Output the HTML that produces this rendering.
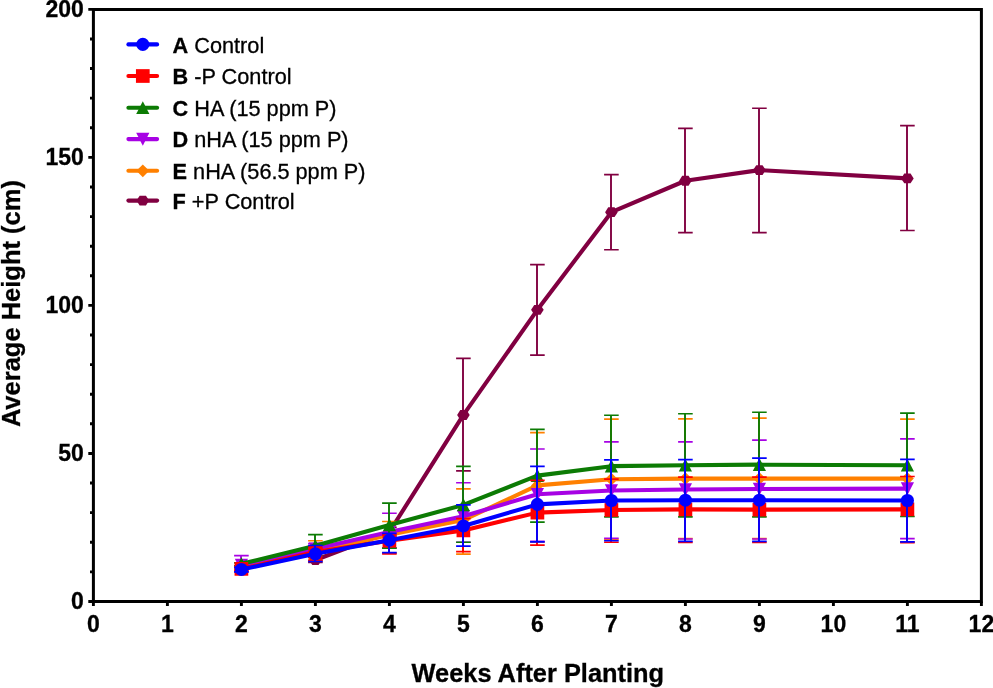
<!DOCTYPE html>
<html><head><meta charset="utf-8"><style>
html,body{margin:0;padding:0;background:#fff;width:993px;height:688px;overflow:hidden}
svg{display:block;will-change:transform}
text{font-family:"Liberation Sans",sans-serif;stroke:#000;stroke-width:0.3px;paint-order:stroke}
</style></head><body>
<svg width="993" height="688" viewBox="0 0 993 688">
<rect width="993" height="688" fill="#fff"/>
<g><path d="M315.00 557.04V562.37" stroke="#810041" stroke-width="1.9" fill="none"/><path d="M308.10 557.04H322.70M308.10 562.37H322.70" stroke="#810041" stroke-width="1.7" fill="none"/><path d="M389.00 527.44V536.32" stroke="#810041" stroke-width="1.9" fill="none"/><path d="M382.10 527.44H396.70M382.10 536.32H396.70" stroke="#810041" stroke-width="1.7" fill="none"/><path d="M463.00 358.39V470.89" stroke="#810041" stroke-width="1.9" fill="none"/><path d="M456.10 358.39H470.70M456.10 470.89H470.70" stroke="#810041" stroke-width="1.7" fill="none"/><path d="M537.00 264.55V355.14" stroke="#810041" stroke-width="1.9" fill="none"/><path d="M530.10 264.55H544.70M530.10 355.14H544.70" stroke="#810041" stroke-width="1.7" fill="none"/><path d="M611.00 174.55V249.74" stroke="#810041" stroke-width="1.9" fill="none"/><path d="M604.10 174.55H618.70M604.10 249.74H618.70" stroke="#810041" stroke-width="1.7" fill="none"/><path d="M685.00 128.36V232.57" stroke="#810041" stroke-width="1.9" fill="none"/><path d="M678.10 128.36H692.70M678.10 232.57H692.70" stroke="#810041" stroke-width="1.7" fill="none"/><path d="M759.00 108.23V232.57" stroke="#810041" stroke-width="1.9" fill="none"/><path d="M752.10 108.23H766.70M752.10 232.57H766.70" stroke="#810041" stroke-width="1.7" fill="none"/><path d="M907.00 125.70V230.50" stroke="#810041" stroke-width="1.9" fill="none"/><path d="M900.10 125.70H914.70M900.10 230.50H914.70" stroke="#810041" stroke-width="1.7" fill="none"/><polyline points="315.40,560.00 389.40,531.88 463.40,414.94 537.40,309.84 611.40,212.14 685.40,180.76 759.40,170.11 907.40,178.39" stroke="#810041" stroke-width="4.1" fill="none" stroke-linejoin="round"/><polygon points="309.10,560.00 312.25,555.05 318.55,555.05 321.70,560.00 318.55,564.95 312.25,564.95" fill="#810041"/><polygon points="383.10,531.88 386.25,526.93 392.55,526.93 395.70,531.88 392.55,536.83 386.25,536.83" fill="#810041"/><polygon points="457.10,414.94 460.25,409.99 466.55,409.99 469.70,414.94 466.55,419.89 460.25,419.89" fill="#810041"/><polygon points="531.10,309.84 534.25,304.89 540.55,304.89 543.70,309.84 540.55,314.79 534.25,314.79" fill="#810041"/><polygon points="605.10,212.14 608.25,207.19 614.55,207.19 617.70,212.14 614.55,217.09 608.25,217.09" fill="#810041"/><polygon points="679.10,180.76 682.25,175.81 688.55,175.81 691.70,180.76 688.55,185.71 682.25,185.71" fill="#810041"/><polygon points="753.10,170.11 756.25,165.16 762.55,165.16 765.70,170.11 762.55,175.06 756.25,175.06" fill="#810041"/><polygon points="901.10,178.39 904.25,173.44 910.55,173.44 913.70,178.39 910.55,183.34 904.25,183.34" fill="#810041"/></g>
<g><path d="M241.00 565.92V568.88" stroke="#FF8000" stroke-width="1.9" fill="none"/><path d="M234.10 565.92H248.70M234.10 568.88H248.70" stroke="#FF8000" stroke-width="1.7" fill="none"/><path d="M315.00 540.76V560.30" stroke="#FF8000" stroke-width="1.9" fill="none"/><path d="M308.10 540.76H322.70M308.10 560.30H322.70" stroke="#FF8000" stroke-width="1.7" fill="none"/><path d="M389.00 521.52V552.90" stroke="#FF8000" stroke-width="1.9" fill="none"/><path d="M382.10 521.52H396.70M382.10 552.90H396.70" stroke="#FF8000" stroke-width="1.7" fill="none"/><path d="M463.00 488.95V554.08" stroke="#FF8000" stroke-width="1.9" fill="none"/><path d="M456.10 488.95H470.70M456.10 554.08H470.70" stroke="#FF8000" stroke-width="1.7" fill="none"/><path d="M537.00 432.70V541.94" stroke="#FF8000" stroke-width="1.9" fill="none"/><path d="M530.10 432.70H544.70M530.10 541.94H544.70" stroke="#FF8000" stroke-width="1.7" fill="none"/><path d="M611.00 419.08V539.43" stroke="#FF8000" stroke-width="1.9" fill="none"/><path d="M604.10 419.08H618.70M604.10 539.43H618.70" stroke="#FF8000" stroke-width="1.7" fill="none"/><path d="M685.00 418.79V538.69" stroke="#FF8000" stroke-width="1.9" fill="none"/><path d="M678.10 418.79H692.70M678.10 538.69H692.70" stroke="#FF8000" stroke-width="1.7" fill="none"/><path d="M759.00 418.20V538.69" stroke="#FF8000" stroke-width="1.9" fill="none"/><path d="M752.10 418.20H766.70M752.10 538.69H766.70" stroke="#FF8000" stroke-width="1.7" fill="none"/><path d="M907.00 419.08V541.94" stroke="#FF8000" stroke-width="1.9" fill="none"/><path d="M900.10 419.08H914.70M900.10 541.94H914.70" stroke="#FF8000" stroke-width="1.7" fill="none"/><polyline points="241.40,567.40 315.40,552.60 389.40,534.84 463.40,520.04 537.40,485.40 611.40,479.18 685.40,478.59 759.40,478.59 907.40,478.59" stroke="#FF8000" stroke-width="4.1" fill="none" stroke-linejoin="round"/><polygon points="241.40,561.00 247.80,567.40 241.40,573.80 235.00,567.40" fill="#FF8000"/><polygon points="315.40,546.20 321.80,552.60 315.40,559.00 309.00,552.60" fill="#FF8000"/><polygon points="389.40,528.44 395.80,534.84 389.40,541.24 383.00,534.84" fill="#FF8000"/><polygon points="463.40,513.64 469.80,520.04 463.40,526.44 457.00,520.04" fill="#FF8000"/><polygon points="537.40,479.00 543.80,485.40 537.40,491.80 531.00,485.40" fill="#FF8000"/><polygon points="611.40,472.78 617.80,479.18 611.40,485.58 605.00,479.18" fill="#FF8000"/><polygon points="685.40,472.19 691.80,478.59 685.40,484.99 679.00,478.59" fill="#FF8000"/><polygon points="759.40,472.19 765.80,478.59 759.40,484.99 753.00,478.59" fill="#FF8000"/><polygon points="907.40,472.19 913.80,478.59 907.40,484.99 901.00,478.59" fill="#FF8000"/></g>
<g><path d="M241.00 555.56V571.85" stroke="#A702E4" stroke-width="1.9" fill="none"/><path d="M234.10 555.56H248.70M234.10 571.85H248.70" stroke="#A702E4" stroke-width="1.7" fill="none"/><path d="M315.00 543.72V555.56" stroke="#A702E4" stroke-width="1.9" fill="none"/><path d="M308.10 543.72H322.70M308.10 555.56H322.70" stroke="#A702E4" stroke-width="1.7" fill="none"/><path d="M389.00 513.23V547.86" stroke="#A702E4" stroke-width="1.9" fill="none"/><path d="M382.10 513.23H396.70M382.10 547.86H396.70" stroke="#A702E4" stroke-width="1.7" fill="none"/><path d="M463.00 482.73V542.24" stroke="#A702E4" stroke-width="1.9" fill="none"/><path d="M456.10 482.73H470.70M456.10 542.24H470.70" stroke="#A702E4" stroke-width="1.7" fill="none"/><path d="M537.00 448.98V541.35" stroke="#A702E4" stroke-width="1.9" fill="none"/><path d="M530.10 448.98H544.70M530.10 541.35H544.70" stroke="#A702E4" stroke-width="1.7" fill="none"/><path d="M611.00 441.88V538.39" stroke="#A702E4" stroke-width="1.9" fill="none"/><path d="M604.10 441.88H618.70M604.10 538.39H618.70" stroke="#A702E4" stroke-width="1.7" fill="none"/><path d="M685.00 441.88V538.98" stroke="#A702E4" stroke-width="1.9" fill="none"/><path d="M678.10 441.88H692.70M678.10 538.98H692.70" stroke="#A702E4" stroke-width="1.7" fill="none"/><path d="M759.00 440.10V538.98" stroke="#A702E4" stroke-width="1.9" fill="none"/><path d="M752.10 440.10H766.70M752.10 538.98H766.70" stroke="#A702E4" stroke-width="1.7" fill="none"/><path d="M907.00 438.92V538.69" stroke="#A702E4" stroke-width="1.9" fill="none"/><path d="M900.10 438.92H914.70M900.10 538.69H914.70" stroke="#A702E4" stroke-width="1.7" fill="none"/><polyline points="241.40,565.04 315.40,548.75 389.40,531.88 463.40,516.19 537.40,494.28 611.40,490.43 685.40,489.54 759.40,488.95 907.40,488.65" stroke="#A702E4" stroke-width="4.1" fill="none" stroke-linejoin="round"/><polygon points="241.40,571.64 248.00,558.74 234.80,558.74" fill="#A702E4"/><polygon points="315.40,555.35 322.00,542.45 308.80,542.45" fill="#A702E4"/><polygon points="389.40,538.48 396.00,525.58 382.80,525.58" fill="#A702E4"/><polygon points="463.40,522.79 470.00,509.89 456.80,509.89" fill="#A702E4"/><polygon points="537.40,500.88 544.00,487.98 530.80,487.98" fill="#A702E4"/><polygon points="611.40,497.03 618.00,484.13 604.80,484.13" fill="#A702E4"/><polygon points="685.40,496.14 692.00,483.24 678.80,483.24" fill="#A702E4"/><polygon points="759.40,495.55 766.00,482.65 752.80,482.65" fill="#A702E4"/><polygon points="907.40,495.25 914.00,482.35 900.80,482.35" fill="#A702E4"/></g>
<g><path d="M241.00 562.96V565.92" stroke="#0C7B04" stroke-width="1.9" fill="none"/><path d="M234.10 562.96H248.70M234.10 565.92H248.70" stroke="#0C7B04" stroke-width="1.7" fill="none"/><path d="M315.00 534.54V555.56" stroke="#0C7B04" stroke-width="1.9" fill="none"/><path d="M308.10 534.54H322.70M308.10 555.56H322.70" stroke="#0C7B04" stroke-width="1.7" fill="none"/><path d="M389.00 503.16V548.16" stroke="#0C7B04" stroke-width="1.9" fill="none"/><path d="M382.10 503.16H396.70M382.10 548.16H396.70" stroke="#0C7B04" stroke-width="1.7" fill="none"/><path d="M463.00 466.45V542.24" stroke="#0C7B04" stroke-width="1.9" fill="none"/><path d="M456.10 466.45H470.70M456.10 542.24H470.70" stroke="#0C7B04" stroke-width="1.7" fill="none"/><path d="M537.00 429.44V522.11" stroke="#0C7B04" stroke-width="1.9" fill="none"/><path d="M530.10 429.44H544.70M530.10 522.11H544.70" stroke="#0C7B04" stroke-width="1.7" fill="none"/><path d="M611.00 415.23V516.78" stroke="#0C7B04" stroke-width="1.9" fill="none"/><path d="M604.10 415.23H618.70M604.10 516.78H618.70" stroke="#0C7B04" stroke-width="1.7" fill="none"/><path d="M685.00 413.75V516.78" stroke="#0C7B04" stroke-width="1.9" fill="none"/><path d="M678.10 413.75H692.70M678.10 516.78H692.70" stroke="#0C7B04" stroke-width="1.7" fill="none"/><path d="M759.00 412.27V516.78" stroke="#0C7B04" stroke-width="1.9" fill="none"/><path d="M752.10 412.27H766.70M752.10 516.78H766.70" stroke="#0C7B04" stroke-width="1.7" fill="none"/><path d="M907.00 413.16V516.48" stroke="#0C7B04" stroke-width="1.9" fill="none"/><path d="M900.10 413.16H914.70M900.10 516.48H914.70" stroke="#0C7B04" stroke-width="1.7" fill="none"/><polyline points="241.40,563.85 315.40,545.79 389.40,525.07 463.40,504.94 537.40,475.63 611.40,466.16 685.40,465.27 759.40,464.67 907.40,465.27" stroke="#0C7B04" stroke-width="4.1" fill="none" stroke-linejoin="round"/><polygon points="241.40,557.25 248.00,570.15 234.80,570.15" fill="#0C7B04"/><polygon points="315.40,539.19 322.00,552.09 308.80,552.09" fill="#0C7B04"/><polygon points="389.40,518.47 396.00,531.37 382.80,531.37" fill="#0C7B04"/><polygon points="463.40,498.34 470.00,511.24 456.80,511.24" fill="#0C7B04"/><polygon points="537.40,469.03 544.00,481.93 530.80,481.93" fill="#0C7B04"/><polygon points="611.40,459.56 618.00,472.46 604.80,472.46" fill="#0C7B04"/><polygon points="685.40,458.67 692.00,471.57 678.80,471.57" fill="#0C7B04"/><polygon points="759.40,458.07 766.00,470.97 752.80,470.97" fill="#0C7B04"/><polygon points="907.40,458.67 914.00,471.57 900.80,471.57" fill="#0C7B04"/></g>
<g><path d="M241.00 567.40V570.36" stroke="#FF0000" stroke-width="1.9" fill="none"/><path d="M234.10 567.40H248.70M234.10 570.36H248.70" stroke="#FF0000" stroke-width="1.7" fill="none"/><path d="M315.00 548.16V560.30" stroke="#FF0000" stroke-width="1.9" fill="none"/><path d="M308.10 548.16H322.70M308.10 560.30H322.70" stroke="#FF0000" stroke-width="1.7" fill="none"/><path d="M389.00 534.84V553.79" stroke="#FF0000" stroke-width="1.9" fill="none"/><path d="M382.10 534.84H396.70M382.10 553.79H396.70" stroke="#FF0000" stroke-width="1.7" fill="none"/><path d="M463.00 518.56V551.71" stroke="#FF0000" stroke-width="1.9" fill="none"/><path d="M456.10 518.56H470.70M456.10 551.71H470.70" stroke="#FF0000" stroke-width="1.7" fill="none"/><path d="M537.00 480.37V545.05" stroke="#FF0000" stroke-width="1.9" fill="none"/><path d="M530.10 480.37H544.70M530.10 545.05H544.70" stroke="#FF0000" stroke-width="1.7" fill="none"/><path d="M611.00 479.18V542.24" stroke="#FF0000" stroke-width="1.9" fill="none"/><path d="M604.10 479.18H618.70M604.10 542.24H618.70" stroke="#FF0000" stroke-width="1.7" fill="none"/><path d="M685.00 477.11V542.39" stroke="#FF0000" stroke-width="1.9" fill="none"/><path d="M678.10 477.11H692.70M678.10 542.39H692.70" stroke="#FF0000" stroke-width="1.7" fill="none"/><path d="M759.00 477.11V542.39" stroke="#FF0000" stroke-width="1.9" fill="none"/><path d="M752.10 477.11H766.70M752.10 542.39H766.70" stroke="#FF0000" stroke-width="1.7" fill="none"/><path d="M907.00 476.52V542.54" stroke="#FF0000" stroke-width="1.9" fill="none"/><path d="M900.10 476.52H914.70M900.10 542.54H914.70" stroke="#FF0000" stroke-width="1.7" fill="none"/><polyline points="241.40,568.88 315.40,552.01 389.40,540.76 463.40,530.40 537.40,512.63 611.40,509.97 685.40,509.38 759.40,509.67 907.40,509.38" stroke="#FF0000" stroke-width="4.1" fill="none" stroke-linejoin="round"/><rect x="234.55" y="562.03" width="13.7" height="13.7" fill="#FF0000"/><rect x="308.55" y="545.16" width="13.7" height="13.7" fill="#FF0000"/><rect x="382.55" y="533.91" width="13.7" height="13.7" fill="#FF0000"/><rect x="456.55" y="523.55" width="13.7" height="13.7" fill="#FF0000"/><rect x="530.55" y="505.78" width="13.7" height="13.7" fill="#FF0000"/><rect x="604.55" y="503.12" width="13.7" height="13.7" fill="#FF0000"/><rect x="678.55" y="502.53" width="13.7" height="13.7" fill="#FF0000"/><rect x="752.55" y="502.82" width="13.7" height="13.7" fill="#FF0000"/><rect x="900.55" y="502.53" width="13.7" height="13.7" fill="#FF0000"/></g>
<g><path d="M241.00 567.40V571.85" stroke="#0000FF" stroke-width="1.9" fill="none"/><path d="M234.10 567.40H248.70M234.10 571.85H248.70" stroke="#0000FF" stroke-width="1.7" fill="none"/><path d="M315.00 545.50V561.48" stroke="#0000FF" stroke-width="1.9" fill="none"/><path d="M308.10 545.50H322.70M308.10 561.48H322.70" stroke="#0000FF" stroke-width="1.7" fill="none"/><path d="M389.00 533.36V552.60" stroke="#0000FF" stroke-width="1.9" fill="none"/><path d="M382.10 533.36H396.70M382.10 552.60H396.70" stroke="#0000FF" stroke-width="1.7" fill="none"/><path d="M463.00 504.94V546.09" stroke="#0000FF" stroke-width="1.9" fill="none"/><path d="M456.10 504.94H470.70M456.10 546.09H470.70" stroke="#0000FF" stroke-width="1.7" fill="none"/><path d="M537.00 466.45V541.94" stroke="#0000FF" stroke-width="1.9" fill="none"/><path d="M530.10 466.45H544.70M530.10 541.94H544.70" stroke="#0000FF" stroke-width="1.7" fill="none"/><path d="M611.00 459.94V540.76" stroke="#0000FF" stroke-width="1.9" fill="none"/><path d="M604.10 459.94H618.70M604.10 540.76H618.70" stroke="#0000FF" stroke-width="1.7" fill="none"/><path d="M685.00 459.64V541.35" stroke="#0000FF" stroke-width="1.9" fill="none"/><path d="M678.10 459.64H692.70M678.10 541.35H692.70" stroke="#0000FF" stroke-width="1.7" fill="none"/><path d="M759.00 458.16V541.35" stroke="#0000FF" stroke-width="1.9" fill="none"/><path d="M752.10 458.16H766.70M752.10 541.35H766.70" stroke="#0000FF" stroke-width="1.7" fill="none"/><path d="M907.00 459.35V541.94" stroke="#0000FF" stroke-width="1.9" fill="none"/><path d="M900.10 459.35H914.70M900.10 541.94H914.70" stroke="#0000FF" stroke-width="1.7" fill="none"/><polyline points="241.40,569.48 315.40,553.79 389.40,540.17 463.40,525.96 537.40,504.35 611.40,500.50 685.40,500.20 759.40,500.20 907.40,500.50" stroke="#0000FF" stroke-width="4.1" fill="none" stroke-linejoin="round"/><circle cx="241.40" cy="569.48" r="6.55" fill="#0000FF"/><circle cx="315.40" cy="553.79" r="6.55" fill="#0000FF"/><circle cx="389.40" cy="540.17" r="6.55" fill="#0000FF"/><circle cx="463.40" cy="525.96" r="6.55" fill="#0000FF"/><circle cx="537.40" cy="504.35" r="6.55" fill="#0000FF"/><circle cx="611.40" cy="500.50" r="6.55" fill="#0000FF"/><circle cx="685.40" cy="500.20" r="6.55" fill="#0000FF"/><circle cx="759.40" cy="500.20" r="6.55" fill="#0000FF"/><circle cx="907.40" cy="500.50" r="6.55" fill="#0000FF"/></g>
<path d="M93.40 9.4H981.4V601.45H93.40Z" stroke="#000" stroke-width="3.0" fill="none"/>
<path d="M88.30 601.45H93.40 M90.00 571.85H93.40 M90.00 542.24H93.40 M90.00 512.63H93.40 M90.00 483.03H93.40 M88.30 453.43H93.40 M90.00 423.82H93.40 M90.00 394.22H93.40 M90.00 364.61H93.40 M90.00 335.01H93.40 M88.30 305.40H93.40 M90.00 275.80H93.40 M90.00 246.19H93.40 M90.00 216.59H93.40 M90.00 186.98H93.40 M88.30 157.38H93.40 M90.00 127.77H93.40 M90.00 98.17H93.40 M90.00 68.56H93.40 M90.00 38.96H93.40 M88.30 9.35H93.40 M93.40 601.45V606.10 M167.40 601.45V606.10 M241.40 601.45V606.10 M315.40 601.45V606.10 M389.40 601.45V606.10 M463.40 601.45V606.10 M537.40 601.45V606.10 M611.40 601.45V606.10 M685.40 601.45V606.10 M759.40 601.45V606.10 M833.40 601.45V606.10 M907.40 601.45V606.10 M981.40 601.45V606.10" stroke="#000" stroke-width="2.9" fill="none"/>
<text x="83.8" y="609.35" font-size="23" font-weight="bold" text-anchor="end">0</text>
<text x="83.8" y="461.33" font-size="23" font-weight="bold" text-anchor="end">50</text>
<text x="83.8" y="313.30" font-size="23" font-weight="bold" text-anchor="end">100</text>
<text x="83.8" y="165.28" font-size="23" font-weight="bold" text-anchor="end">150</text>
<text x="83.8" y="17.25" font-size="23" font-weight="bold" text-anchor="end">200</text>
<text x="93.40" y="632.3" font-size="23" font-weight="bold" text-anchor="middle">0</text>
<text x="167.40" y="632.3" font-size="23" font-weight="bold" text-anchor="middle">1</text>
<text x="241.40" y="632.3" font-size="23" font-weight="bold" text-anchor="middle">2</text>
<text x="315.40" y="632.3" font-size="23" font-weight="bold" text-anchor="middle">3</text>
<text x="389.40" y="632.3" font-size="23" font-weight="bold" text-anchor="middle">4</text>
<text x="463.40" y="632.3" font-size="23" font-weight="bold" text-anchor="middle">5</text>
<text x="537.40" y="632.3" font-size="23" font-weight="bold" text-anchor="middle">6</text>
<text x="611.40" y="632.3" font-size="23" font-weight="bold" text-anchor="middle">7</text>
<text x="685.40" y="632.3" font-size="23" font-weight="bold" text-anchor="middle">8</text>
<text x="759.40" y="632.3" font-size="23" font-weight="bold" text-anchor="middle">9</text>
<text x="833.40" y="632.3" font-size="23" font-weight="bold" text-anchor="middle">10</text>
<text x="907.40" y="632.3" font-size="23" font-weight="bold" text-anchor="middle">11</text>
<text x="981.40" y="632.3" font-size="23" font-weight="bold" text-anchor="middle">12</text>
<text x="537.8" y="682.2" font-size="25.4" font-weight="bold" text-anchor="middle">Weeks After Planting</text>
<text transform="translate(19.6,303.6) rotate(-90)" x="0" y="0" font-size="25.5" font-weight="bold" text-anchor="middle">Average Height (cm)</text>
<line x1="128.4" y1="44.40" x2="157.1" y2="44.40" stroke="#0000FF" stroke-width="4.1" stroke-linecap="round"/><circle cx="142.80" cy="44.40" r="6.55" fill="#0000FF"/><text x="172.6" y="52.60" font-size="21.7"><tspan font-weight="bold">A</tspan> Control</text>
<line x1="128.4" y1="76.00" x2="157.1" y2="76.00" stroke="#FF0000" stroke-width="4.1" stroke-linecap="round"/><rect x="135.95" y="69.15" width="13.7" height="13.7" fill="#FF0000"/><text x="172.6" y="84.20" font-size="21.7"><tspan font-weight="bold">B</tspan> -P Control</text>
<line x1="128.4" y1="107.80" x2="157.1" y2="107.80" stroke="#0C7B04" stroke-width="4.1" stroke-linecap="round"/><polygon points="142.80,101.20 149.40,114.10 136.20,114.10" fill="#0C7B04"/><text x="172.6" y="116.00" font-size="21.7"><tspan font-weight="bold">C</tspan> HA (15 ppm P)</text>
<line x1="128.4" y1="139.10" x2="157.1" y2="139.10" stroke="#A702E4" stroke-width="4.1" stroke-linecap="round"/><polygon points="142.80,145.70 149.40,132.80 136.20,132.80" fill="#A702E4"/><text x="172.6" y="147.30" font-size="21.7"><tspan font-weight="bold">D</tspan> nHA (15 ppm P)</text>
<line x1="128.4" y1="170.80" x2="157.1" y2="170.80" stroke="#FF8000" stroke-width="4.1" stroke-linecap="round"/><polygon points="142.80,164.40 149.20,170.80 142.80,177.20 136.40,170.80" fill="#FF8000"/><text x="172.6" y="179.00" font-size="21.7"><tspan font-weight="bold">E</tspan> nHA (56.5 ppm P)</text>
<line x1="128.4" y1="200.60" x2="157.1" y2="200.60" stroke="#810041" stroke-width="4.1" stroke-linecap="round"/><polygon points="136.50,200.60 139.65,195.65 145.95,195.65 149.10,200.60 145.95,205.55 139.65,205.55" fill="#810041"/><text x="172.6" y="208.80" font-size="21.7"><tspan font-weight="bold">F</tspan> +P Control</text>
</svg></body></html>
